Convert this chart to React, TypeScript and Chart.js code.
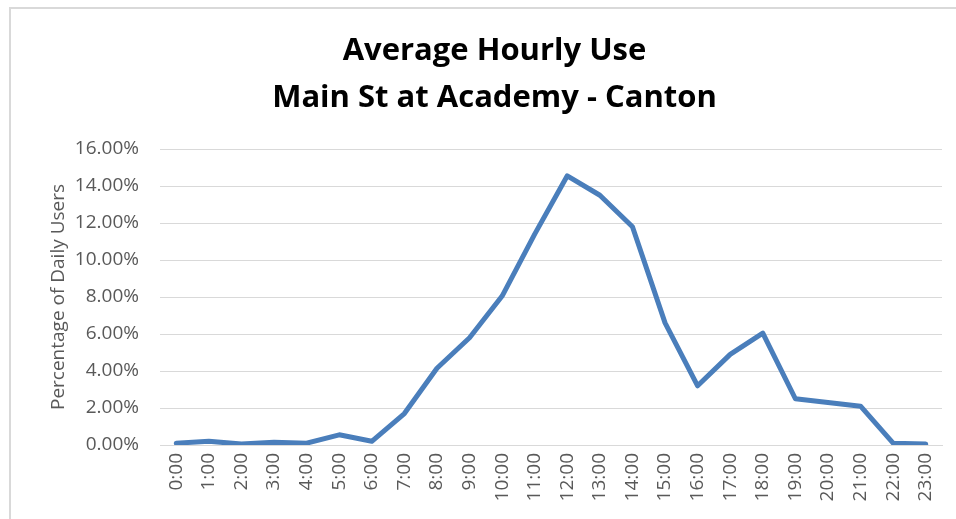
import React, { useEffect, useRef } from "react";
import { Chart, registerables } from "chart.js";

Chart.register(...registerables);

const hours = ["0:00","1:00","2:00","3:00","4:00","5:00","6:00","7:00","8:00","9:00","10:00","11:00","12:00","13:00","14:00","15:00","16:00","17:00","18:00","19:00","20:00","21:00","22:00","23:00"];
const share = [0.1, 0.2, 0.05, 0.15, 0.1, 0.55, 0.2, 1.7, 4.15, 5.8, 8.05, 11.4, 14.55, 13.5, 11.8, 6.6, 3.2, 4.9, 6.05, 2.5, 2.3, 2.1, 0.1, 0.05];
const titleLines = ["Average Hourly Use", "Main St at Academy - Canton"];
const yAxisTitle = "Percentage of Daily Users";

export default function App() {
  const ref = useRef<HTMLCanvasElement | null>(null);
  useEffect(() => {
    document.body.style.margin = "0";
    const ctx = ref.current!;
    const chart = new Chart(ctx, {
      type: "line",
      data: {
        labels: hours,
        datasets: [{
          data: share,
          borderColor: "#4a7ebb",
          borderWidth: 5,
          pointRadius: 0,
          tension: 0,
          fill: false,
          borderJoinStyle: "round",
          borderCapStyle: "round",
        }],
      },
      options: {
        animation: false,
        responsive: false,
        maintainAspectRatio: false,
        layout: { padding: { left: 47, right: 14, top: 0, bottom: 0 } },
        plugins: {
          legend: { display: false },
          tooltip: { enabled: false },
          title: {
            display: true,
            text: titleLines,
            color: "#000000",
            font: { family: "'Open Sans'", size: 31, weight: "bold", lineHeight: 47 / 31 },
            padding: { top: 28, bottom: 27 },
          },
        },
        scales: {
          x: {
            offset: true,
            grid: { display: false, drawTicks: false },
            border: { display: true, color: "#d9d9d9", width: 1 },
            ticks: {
              color: "#595959",
              font: { family: "'Open Sans'", size: 19 },
              minRotation: 90,
              maxRotation: 90,
              autoSkip: false,
              padding: 8,
            },
            afterFit: (s: any) => { s.height = 74; s.paddingLeft = 0; s.paddingRight = 0; },
          },
          y: {
            min: 0,
            max: 16,
            grid: { color: "#d9d9d9", lineWidth: 1, drawTicks: false },
            border: { display: false },
            ticks: {
              stepSize: 2,
              color: "#595959",
              font: { family: "'Open Sans'", size: 19 },
              padding: 21,
              callback: (v: any) => Number(v).toFixed(2) + "%",
            },
            title: {
              display: true,
              text: yAxisTitle,
              color: "#595959",
              font: { family: "'Open Sans'", size: 19 },
              padding: { top: 0, bottom: 10 },
            },
            afterFit: (s: any) => { s.width = 113; },
          },
        },
      },
    });
    return () => chart.destroy();
  }, []);
  return (
    <div style={{ position: "fixed", left: 0, top: 0, width: 956, height: 519, background: "#fff" }}>
      <canvas ref={ref} width={956} height={519} style={{ position: "absolute", left: 0, top: 0 }} />
      <div style={{ position: "absolute", left: 9, top: 7, right: -10, bottom: -10, borderTop: "2px solid #d9d9d9", borderLeft: "2px solid #d9d9d9", pointerEvents: "none" }} />
    </div>
  );
}
